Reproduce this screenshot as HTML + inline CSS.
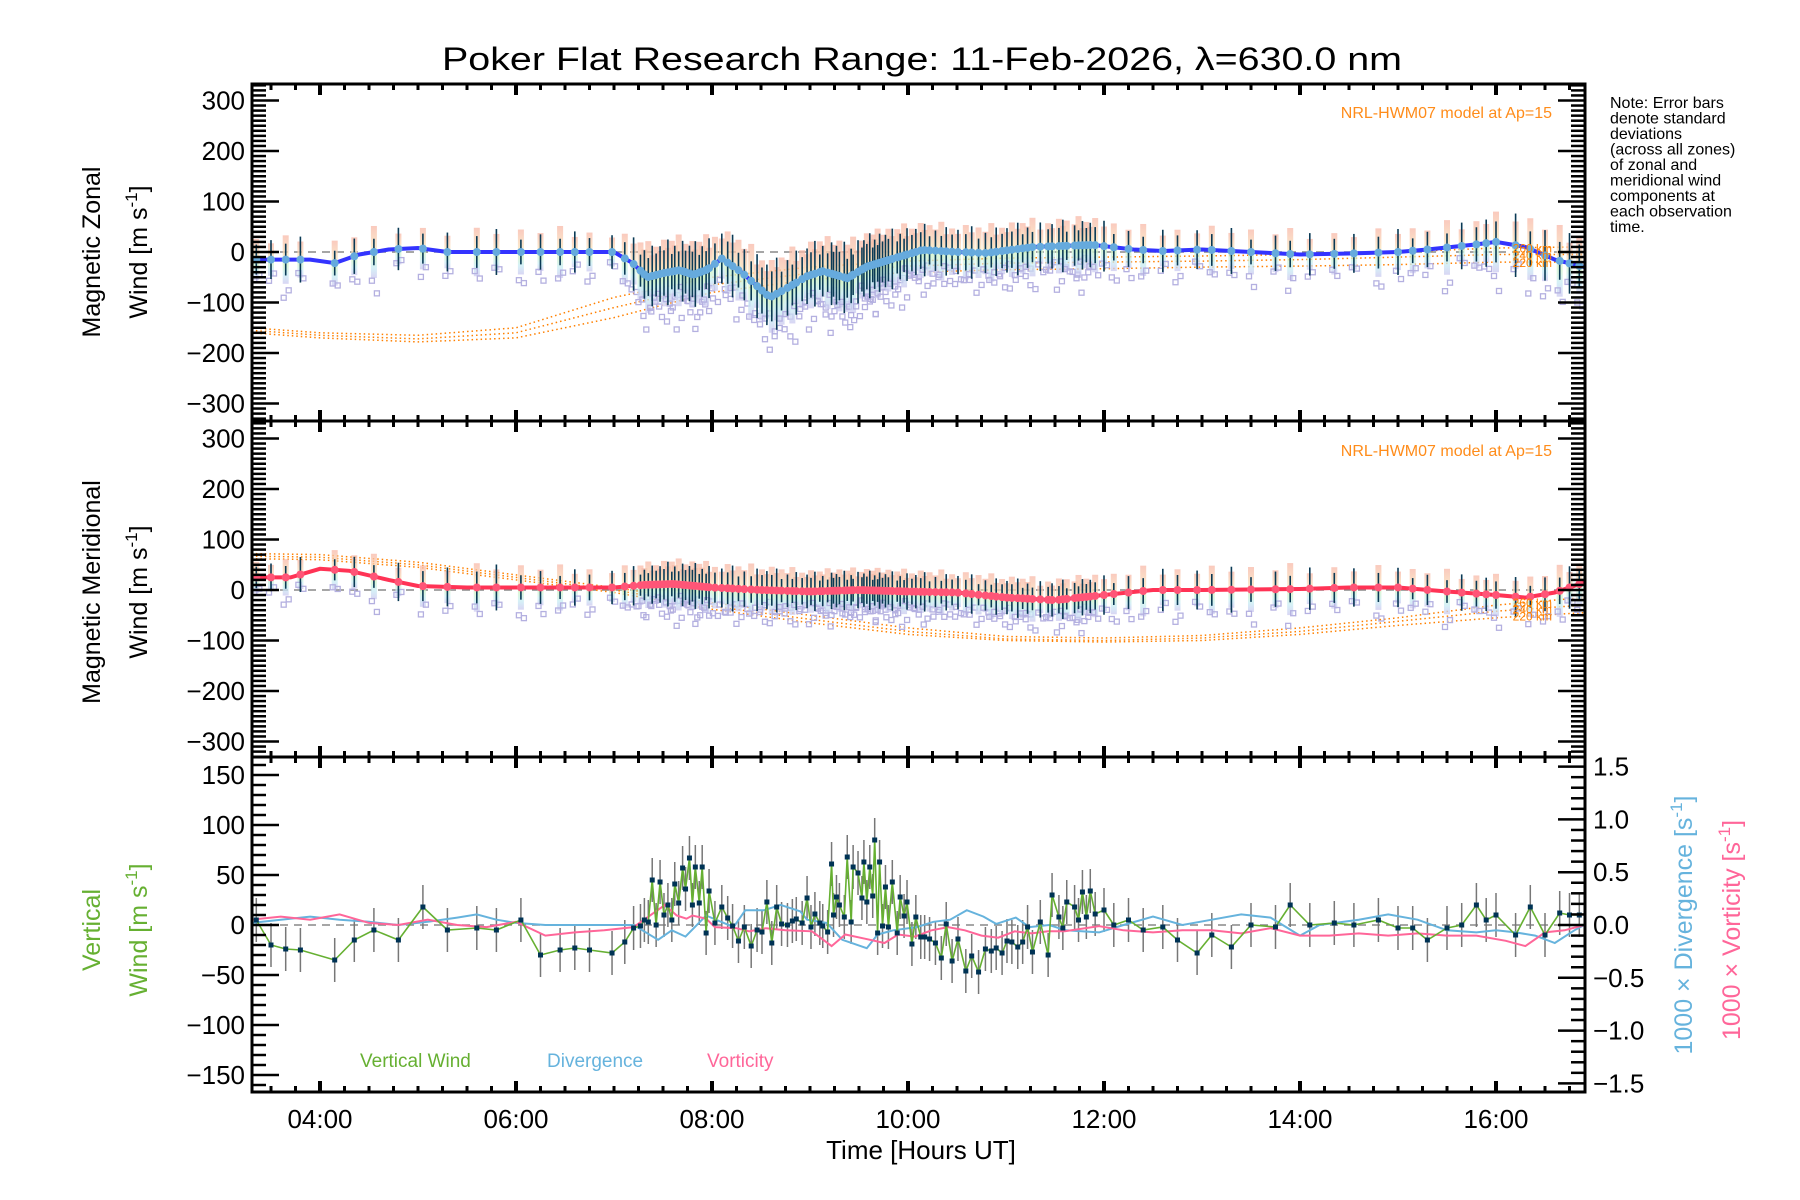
<!DOCTYPE html>
<html><head><meta charset="utf-8"><style>
html,body{margin:0;padding:0;background:#fff;}
svg{display:block;font-family:"Liberation Sans",sans-serif;}
</style></head><body>
<svg id="c" width="1800" height="1200" viewBox="0 0 1800 1200" xmlns="http://www.w3.org/2000/svg">
<defs>
<clipPath id="cp1"><rect x="252" y="84" width="1333" height="337"/></clipPath>
<clipPath id="cp2"><rect x="252" y="421" width="1333" height="336"/></clipPath>
<clipPath id="cp3"><rect x="252" y="757" width="1333" height="335"/></clipPath>
<linearGradient id="bg" x1="0" y1="0" x2="0" y2="1">
<stop offset="0" stop-color="#f8b8a8"/><stop offset="0.4" stop-color="#f8e0b8"/><stop offset="0.6" stop-color="#d0f4c8"/><stop offset="0.8" stop-color="#c8ecf4"/><stop offset="1" stop-color="#ccc8f0"/>
</linearGradient>
</defs>
<text x="922" y="70" text-anchor="middle" font-size="32" textLength="960" lengthAdjust="spacingAndGlyphs">Poker Flat Research Range: 11-Feb-2026, λ=630.0 nm</text>
<g id="p1" clip-path="url(#cp1)"></g>
<g id="p2" clip-path="url(#cp2)"></g>
<g id="p3" clip-path="url(#cp3)"></g>
<g id="axes"></g>
<g font-size="16">
<text x="1610" y="108">Note: Error bars</text><text x="1610" y="123.5">denote standard</text><text x="1610" y="139">deviations</text><text x="1610" y="154.5">(across all zones)</text><text x="1610" y="170">of zonal and</text><text x="1610" y="185.5">meridional wind</text><text x="1610" y="201">components at</text><text x="1610" y="216.5">each observation</text><text x="1610" y="232">time.</text>
</g>
<text x="1552" y="118" text-anchor="end" font-size="16" fill="#ff8c1a">NRL-HWM07 model at Ap=15</text>
<text x="1552" y="456" text-anchor="end" font-size="16" fill="#ff8c1a">NRL-HWM07 model at Ap=15</text>
<text transform="translate(100,252) rotate(-90)" text-anchor="middle" font-size="25">Magnetic Zonal</text>
<text transform="translate(147,252) rotate(-90)" text-anchor="middle" font-size="25">Wind [m s<tspan dy="-10" font-size="17">-1</tspan><tspan dy="10">]</tspan></text>
<text transform="translate(100,592) rotate(-90)" text-anchor="middle" font-size="25">Magnetic Meridional</text>
<text transform="translate(147,592) rotate(-90)" text-anchor="middle" font-size="25">Wind [m s<tspan dy="-10" font-size="17">-1</tspan><tspan dy="10">]</tspan></text>
<text transform="translate(100,930) rotate(-90)" text-anchor="middle" font-size="25" fill="#66b032">Vertical</text>
<text transform="translate(147,930) rotate(-90)" text-anchor="middle" font-size="25" fill="#66b032">Wind [m s<tspan dy="-10" font-size="17">-1</tspan><tspan dy="10">]</tspan></text>
<text transform="translate(1692,925) rotate(-90)" text-anchor="middle" font-size="25" fill="#66b3dd">1000 × Divergence [s<tspan dy="-10" font-size="17">-1</tspan><tspan dy="10">]</tspan></text>
<text transform="translate(1740,930) rotate(-90)" text-anchor="middle" font-size="25" fill="#ff6699">1000 × Vorticity [s<tspan dy="-10" font-size="17">-1</tspan><tspan dy="10">]</tspan></text>
<text x="360" y="1067" font-size="19" fill="#66b032">Vertical Wind</text>
<text x="547" y="1067" font-size="19" fill="#66b3dd">Divergence</text>
<text x="707" y="1067" font-size="19" fill="#ff6699">Vorticity</text>
<text x="921" y="1159" text-anchor="middle" font-size="26">Time [Hours UT]</text>
</svg>
<script>
// ---- data ----
const zonT=[3.3,3.6,3.9,4.15,4.4,4.7,5.0,5.3,6.0,6.5,7.0,7.19,7.34,7.5,7.67,7.81,7.95,8.1,8.3,8.59,8.78,8.97,9.13,9.38,9.58,9.92,10.15,10.5,10.8,11.28,11.89,12.3,12.6,13.0,13.5,14.0,14.5,15.0,15.3,15.8,16.0,16.3,16.6,16.9];
const zonV=[-15,-15,-15,-22,-5,5,8,0,0,0,0,-22,-50,-42,-36,-45,-35,-13,-40,-90,-70,-48,-38,-52,-29,-9,4,0,-2,10,14,5,2,5,0,-5,-3,0,5,15,20,10,-15,-30];
const zonE=[35,35,35,35,35,35,35,35,35,35,30,40,50,50,50,50,50,45,50,55,55,50,50,55,50,45,40,40,40,40,40,35,35,35,35,35,35,35,35,40,45,50,50,50];
const merT=[3.3,3.7,4.0,4.3,4.7,5.0,5.5,6.0,6.5,7.0,7.3,7.6,8.0,8.5,9.0,9.5,10.0,10.5,11.0,11.5,12.0,12.5,13.0,14.0,14.5,15.0,15.5,16.0,16.3,16.6,16.9];
const merV=[25,25,42,38,20,8,5,5,5,5,10,12,5,0,-3,0,-3,-5,-15,-20,-10,0,0,2,5,5,-3,-10,-15,-5,15];
const merE=[25,25,30,30,30,35,35,35,30,30,30,35,35,35,30,30,30,30,30,30,30,35,35,35,35,30,30,30,30,35,35];
const modT=[3.3,4,5,6,7,8,9,10,11,12,13,14,15,16,16.9];
const zonM260=[-150,-160,-165,-150,-90,-50,-30,-18,-12,-10,-8,-5,0,8,10];
const zonM240=[-155,-165,-172,-160,-110,-65,-42,-28,-22,-20,-18,-15,-10,-5,-5];
const zonM220=[-160,-170,-178,-170,-130,-80,-55,-40,-35,-33,-30,-28,-25,-20,-20];
const merM260=[72,70,55,30,5,-25,-50,-75,-92,-95,-90,-75,-55,-30,-15];
const merM240=[67,65,50,25,0,-32,-58,-82,-97,-100,-95,-82,-62,-42,-30];
const merM220=[62,60,45,20,-5,-38,-65,-88,-100,-103,-100,-88,-70,-55,-45];
const vertT=[3.35,3.5,3.65,3.8,4.15,4.35,4.55,4.8,5.05,5.3,5.6,5.8,6.05,6.25,6.45,6.6,6.75,6.98,7.11,7.2,7.27,7.31,7.35,7.39,7.43,7.47,7.51,7.55,7.59,7.62,7.66,7.7,7.73,7.77,7.8,7.83,7.87,7.9,7.94,7.97,8.03,8.1,8.16,8.21,8.27,8.33,8.4,8.46,8.51,8.56,8.61,8.66,8.71,8.77,8.82,8.86,8.92,8.97,9.01,9.05,9.1,9.13,9.18,9.22,9.24,9.27,9.3,9.35,9.38,9.42,9.44,9.49,9.53,9.55,9.58,9.61,9.64,9.66,9.69,9.71,9.74,9.77,9.8,9.84,9.89,9.92,9.96,9.99,10.04,10.08,10.13,10.17,10.22,10.28,10.34,10.39,10.45,10.51,10.59,10.65,10.72,10.79,10.85,10.9,10.96,11.01,11.06,11.12,11.17,11.22,11.27,11.35,11.43,11.47,11.54,11.58,11.62,11.7,11.74,11.78,11.82,11.86,11.91,12.0,12.1,12.25,12.4,12.6,12.75,12.95,13.1,13.3,13.5,13.75,13.9,14.1,14.35,14.55,14.8,15.0,15.15,15.3,15.5,15.65,15.8,15.9,16.0,16.2,16.35,16.5,16.65,16.75,16.85];
const vertV=[5,-20,-24,-25,-35,-15,-5,-15,18,-5,-3,-5,5,-30,-25,-23,-25,-28,-17,-3,-1,5,3,45,0,43,10,20,5,41,22,57,36,67,20,58,22,58,-8,34,2,18,7,-1,-16,-2,-21,-5,-7,23,-18,18,1,0,4,6,2,27,-2,11,2,-1,-7,61,10,28,20,8,68,3,58,52,27,63,23,58,29,85,-8,63,-1,38,-2,43,-8,28,9,23,-19,8,-12,-12,-14,-18,-33,1,-36,-14,-46,-31,-47,-24,-26,-23,-28,-16,-17,-22,-17,-2,-27,3,-30,30,8,-3,23,18,5,33,8,34,11,15,0,5,-5,-2,-15,-28,-10,-22,0,-2,20,0,2,0,5,-3,-3,-15,-3,0,20,5,10,-10,18,-10,12,10,10];
const vertErr=22;
const divT=[3.3,3.6,3.9,4.2,4.5,4.8,5.1,5.4,5.6,5.8,6.0,6.3,6.6,6.9,7.2,7.45,7.59,7.73,7.94,8.22,8.34,8.53,8.7,8.9,8.97,9.17,9.33,9.58,9.69,9.85,10.09,10.26,10.43,10.6,10.77,10.9,11.1,11.24,11.44,11.61,11.95,12.2,12.5,12.8,13.1,13.4,13.7,14.0,14.2,14.6,14.9,15.2,15.5,15.8,16.0,16.2,16.4,16.6,16.8,16.9];
const divV=[0.02,0.05,0.08,0.05,0.03,0.0,0.03,0.07,0.1,0.05,0.02,0.0,0.0,0.0,0.0,-0.14,-0.05,-0.11,0.09,-0.02,0.14,0.14,0.19,0.13,0.05,0.02,-0.14,-0.22,-0.09,-0.05,-0.02,0.03,0.05,0.14,0.08,0.01,0.07,-0.02,0.0,-0.05,-0.07,0.0,0.08,0.0,0.05,0.1,0.07,-0.1,0.0,0.05,0.1,0.05,-0.05,-0.07,-0.05,-0.07,-0.1,-0.17,-0.05,0.0];
const vorT=[3.3,3.6,3.9,4.2,4.5,4.8,5.1,5.4,5.7,6.0,6.3,6.6,6.9,7.2,7.52,7.64,7.74,7.8,7.94,8.03,8.25,8.38,8.55,8.75,9.02,9.22,9.36,9.56,9.76,9.9,10.07,10.24,10.41,10.58,10.75,10.92,11.09,11.26,11.43,11.6,11.95,12.2,12.5,12.8,13.1,13.4,13.7,14.0,14.3,14.6,14.9,15.2,15.5,15.8,16.1,16.3,16.5,16.7,16.9];
const vorV=[0.05,0.08,0.05,0.1,0.02,0.0,0.05,0.0,-0.02,0.03,-0.1,-0.07,-0.05,-0.02,0.19,0.09,0.06,0.09,0.06,-0.02,-0.03,-0.06,-0.03,-0.05,-0.06,-0.2,-0.09,-0.13,-0.17,-0.09,-0.11,-0.05,-0.02,-0.05,-0.1,-0.12,-0.06,-0.08,-0.06,-0.06,-0.01,-0.05,-0.07,-0.05,-0.05,-0.08,-0.03,-0.1,-0.1,-0.08,-0.1,-0.08,-0.1,-0.1,-0.15,-0.2,-0.07,-0.05,0.0];
const timeTickLabels=["04:00","06:00","08:00","10:00","12:00","14:00","16:00"];
const windTickLabels=["300","200","100","0","−100","−200","−300"];
const vertTickLabels=["150","100","50","0","−50","−100","−150"];
const rightTickLabels=["1.5","1.0","0.5","0.0","−0.5","−1.0","−1.5"];
// ---- scales ----
const X=h=>320+(h-4)*98;
const Y1=v=>252-v*0.505, Y2=v=>590-v*0.505, Y3=v=>925-v, YR=v=>925-v*105.6;
const NS="http://www.w3.org/2000/svg";
function mk(p,tag,at){const e=document.createElementNS(NS,tag);for(const k in at)e.setAttribute(k,at[k]);p.appendChild(e);return e;}
function interp(ts,vs,t){if(t<=ts[0])return vs[0];for(let i=1;i<ts.length;i++){if(t<=ts[i]){const f=(t-ts[i-1])/(ts[i]-ts[i-1]);return vs[i-1]+f*(vs[i]-vs[i-1]);}}return vs[vs.length-1];}
function pathOf(ts,vs,Y){return ts.map((t,i)=>(i?"L":"M")+X(t).toFixed(1)+","+Y(vs[i]).toFixed(1)).join("");}
const offs=[-1.15,-1.45,-0.9,-1.6,-1.25,-1.05,-1.8];
const jit=[1.0,0.75,1.2,0.85,1.1,0.9,1.3,0.7];
function windPanel(g,Y,T,V,E,M,lineColor,dotColor,nm){
  const dz=mk(g,"line",{x1:252,x2:1585,y1:Y(0),y2:Y(0),stroke:"#888","stroke-width":1.5,"stroke-dasharray":"8,6"});
  
  M.forEach((arr,k)=>{const p=mk(g,"path",{d:pathOf(modT,arr,Y),fill:"none",stroke:"#ff8000","stroke-width":1.5,"stroke-dasharray":"1.5,3"});
    });
  vertT.forEach((t,i)=>{const v=interp(T,V,t),e=interp(T,E,t)*jit[i%8],x=X(t);
    const r=mk(g,"rect",{x:x-3,y:Y(v+e+6),width:6,height:Y(v-e-6)-Y(v+e+6),fill:"url(#bg)",opacity:0.75});
    
    for(let k=0;k<2;k++){const o=offs[(i*3+k*2)%7];const s=mk(g,"rect",{x:x-2.5+(k?3:-2),y:Y(v+o*e)-2.5,width:5,height:5,fill:"none",stroke:"#b4b0e0","stroke-width":1.3});
      }
  });
  vertT.forEach((t,i)=>{const v=interp(T,V,t),e=interp(T,E,t)*jit[(i+3)%8],x=X(t);
    const l=mk(g,"line",{x1:x,x2:x,y1:Y(v+e),y2:Y(v-e),stroke:"#0a3a55","stroke-width":1.6});
    });
  const ln=mk(g,"path",{d:pathOf(T,V,Y),fill:"none",stroke:lineColor,"stroke-width":4});
  
  vertT.forEach(t=>{const c=mk(g,"circle",{cx:X(t),cy:Y(interp(T,V,t)),r:4,fill:dotColor});
    });
}
windPanel(document.getElementById("p1"),Y1,zonT,zonV,zonE,[zonM260,zonM240,zonM220],"#3333ff","#66aadd","zonal");
windPanel(document.getElementById("p2"),Y2,merT,merV,merE,[merM260,merM240,merM220],"#ff3355","#ff5577","meridional");
[[Y1,zonM260,"260 km"],[Y1,zonM240,"240 km"],[Y1,zonM220,"220 km"],[Y2,merM260,"260 km"],[Y2,merM240,"240 km"],[Y2,merM220,"220 km"]].forEach(a=>{
  const t=mk(document.getElementById("axes"),"text",{x:1552,y:a[0](interp(modT,a[1],16.4))+5,"text-anchor":"end","font-size":12,fill:"#ff8000"});t.textContent=a[2];
  });
// panel 3
const g3=document.getElementById("p3");
const d3=mk(g3,"line",{x1:252,x2:1585,y1:Y3(0),y2:Y3(0),stroke:"#888","stroke-width":1.5,"stroke-dasharray":"8,6"});

vertT.forEach((t,i)=>{const l=mk(g3,"line",{x1:X(t),x2:X(t),y1:Y3(vertV[i]+vertErr),y2:Y3(vertV[i]-vertErr),stroke:"#777","stroke-width":1.5});
  });
const dv=mk(g3,"path",{d:pathOf(divT,divV,YR),fill:"none",stroke:"#66b3dd","stroke-width":2});

const vo=mk(g3,"path",{d:pathOf(vorT,vorV,YR),fill:"none",stroke:"#ff6699","stroke-width":2});

const vw=mk(g3,"path",{d:pathOf(vertT,vertV,Y3),fill:"none",stroke:"#66b032","stroke-width":1.6});

vertT.forEach((t,i)=>{const s=mk(g3,"rect",{x:X(t)-2.5,y:Y3(vertV[i])-2.5,width:5,height:5,fill:"#003355"});
  });
// axes
const ax=document.getElementById("axes");
function L(x1,y1,x2,y2,w,nm){const l=mk(ax,"line",{x1,y1,x2,y2,stroke:"#000","stroke-width":w});}
const panels=[[84,421],[421,757],[757,1092]];
panels.forEach((p,k)=>{const r=mk(ax,"rect",{x:252,y:p[0],width:1333,height:p[1]-p[0],fill:"none",stroke:"#000","stroke-width":3});
  
  for(let m=0;m<=14*4;m++){const h=3.25+m*0.25;if(h<3.31||h>16.9)continue;const x=X(h);const maj=Math.abs(h-Math.round(h/2)*2)<1e-6;const len=maj?11:6;
    L(x,p[0],x,p[0]+len,maj?4:3,'x-tick');L(x,p[1],x,p[1]-len,maj?4:3,'x-tick');}
});
[[Y1,84,421],[Y2,421,757]].forEach(a=>{for(let v=-330;v<=330;v+=10){const y=a[0](v);if(y<a[1]+1||y>a[2]-1)continue;const maj=v%100===0;const len=maj?27:14;
  L(252,y,252+len,y,2.5,'y-tick');L(1585,y,1585-len,y,2.5,'y-tick');}});
windTickLabels.forEach((s,i)=>{[Y1,Y2].forEach((Y,k)=>{const t=mk(ax,"text",{x:245,y:Y(300-i*100)+9,"text-anchor":"end","font-size":26});t.textContent=s;
  });});
for(let v=-160;v<=160;v+=10){const y=Y3(v);const maj=v%50===0;L(252,y,252+(maj?27:14),y,2.5,'y-tick');}
for(let v=-16;v<=16;v++){const y=YR(v/10);if(y<758||y>1091)continue;const maj=v%5===0;L(1585,y,1585-(maj?27:14),y,2.5,'right-y-tick');}
vertTickLabels.forEach((s,i)=>{const t=mk(ax,"text",{x:245,y:Y3(150-i*50)+9,"text-anchor":"end","font-size":26});t.textContent=s;
  });
rightTickLabels.forEach((s,i)=>{const t=mk(ax,"text",{x:1593,y:YR(1.5-i*0.5)+9,"font-size":26});t.textContent=s;
  });
timeTickLabels.forEach((s,i)=>{const t=mk(ax,"text",{x:X(4+2*i),y:1128,"text-anchor":"middle","font-size":26});t.textContent=s;
  });
</script>
</body></html>
